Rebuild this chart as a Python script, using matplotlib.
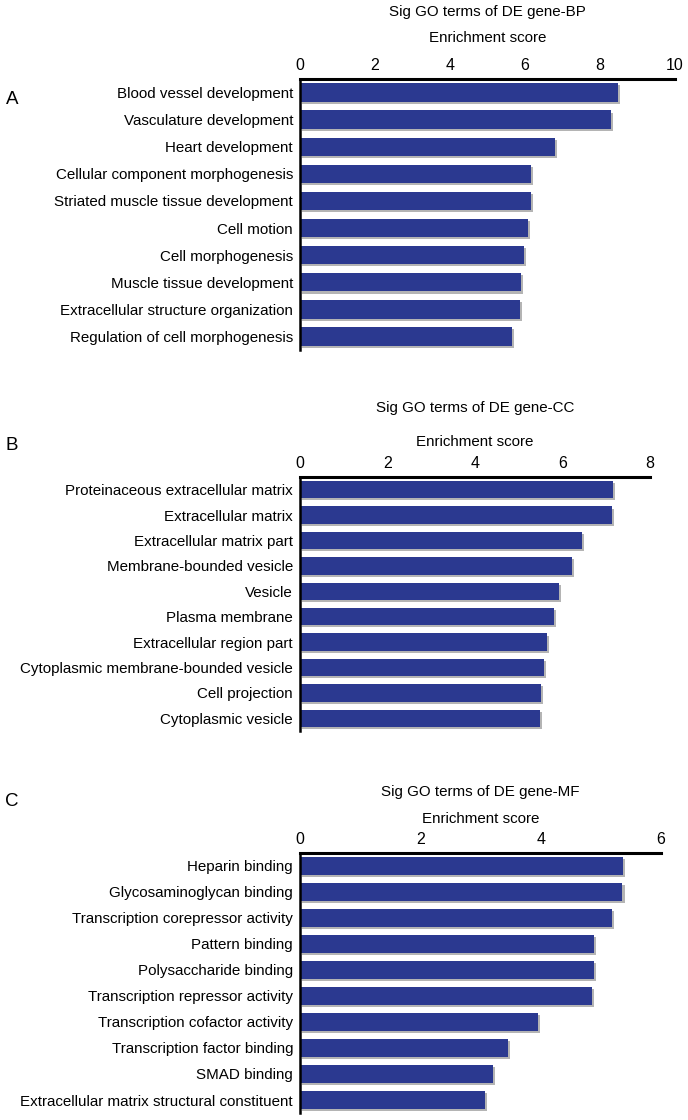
import matplotlib
matplotlib.use('Agg')
import matplotlib.pyplot as plt
import matplotlib.patheffects as pe

plt.rcParams['font.family'] = ['Liberation Sans', 'DejaVu Sans']

# Data: GO terms and enrichment scores
bp_terms = ['Blood vessel development', 'Vasculature development', 'Heart development',
            'Cellular component morphogenesis', 'Striated muscle tissue development',
            'Cell motion', 'Cell morphogenesis', 'Muscle tissue development',
            'Extracellular structure organization', 'Regulation of cell morphogenesis']
bp_scores = [8.48, 8.29, 6.79, 6.15, 6.16, 6.09, 5.98, 5.89, 5.86, 5.64]

cc_terms = ['Proteinaceous extracellular matrix', 'Extracellular matrix',
            'Extracellular matrix part', 'Membrane-bounded vesicle', 'Vesicle',
            'Plasma membrane', 'Extracellular region part',
            'Cytoplasmic membrane-bounded vesicle', 'Cell projection', 'Cytoplasmic vesicle']
cc_scores = [7.16, 7.12, 6.44, 6.21, 5.92, 5.80, 5.65, 5.57, 5.51, 5.48]

mf_terms = ['Heparin binding', 'Glycosaminoglycan binding',
            'Transcription corepressor activity', 'Pattern binding',
            'Polysaccharide binding', 'Transcription repressor activity',
            'Transcription cofactor activity', 'Transcription factor binding',
            'SMAD binding', 'Extracellular matrix structural constituent']
mf_scores = [5.37, 5.36, 5.19, 4.89, 4.89, 4.85, 3.96, 3.45, 3.20, 3.08]

W, H = 688, 1120
fig = plt.figure(figsize=(W / 100, H / 100), dpi=100)
bar_color = '#2b3990'
fs = 10.9


def panel(letter, letter_y, title, title_y, label_y, terms, scores, xmax, box):
    x0, x1, y0, y1 = box
    ax = fig.add_axes([x0 / W, 1 - y1 / H, (x1 - x0) / W, (y1 - y0) / H])
    ypos = list(range(len(terms)))
    bars = ax.barh(ypos, scores, height=0.68, color=bar_color, zorder=2)
    for b in bars:
        b.set_path_effects([pe.SimplePatchShadow(offset=(1.5, -1.5), shadow_rgbFace='#777777', alpha=0.55),
                            pe.Normal()])
    ax.set_xlim(0, xmax)
    ax.set_ylim(len(terms) - 0.5, -0.5)
    ax.set_yticks(ypos)
    ax.set_yticklabels(terms, fontsize=fs)
    ax.set_xticks(range(0, xmax + 1, 2))
    ax.xaxis.tick_top()
    ax.tick_params(axis='x', length=0, pad=4.5, labelsize=fs + 0.6)
    ax.tick_params(axis='y', length=0, pad=5)
    ax.spines['right'].set_visible(False)
    ax.spines['bottom'].set_visible(False)
    ax.spines['top'].set_linewidth(2.2)
    ax.spines['left'].set_linewidth(1.8)
    cx = (x0 + x1) / 2 / W
    fig.text(cx, 1 - title_y / H, title, ha='center', va='center', fontsize=fs)
    fig.text(cx, 1 - label_y / H, 'Enrichment score', ha='center', va='center', fontsize=fs)
    fig.text(12 / W, 1 - letter_y / H, letter, ha='center', va='center', fontsize=13.5)


panel('A', 100, 'Sig GO terms of DE gene-BP', 12, 38, bp_terms, bp_scores, 10, (300, 675, 79, 350))
panel('B', 445, 'Sig GO terms of DE gene-CC', 408, 442, cc_terms, cc_scores, 8, (300, 650, 477, 731))
panel('C', 802, 'Sig GO terms of DE gene-MF', 792, 819, mf_terms, mf_scores, 6, (300, 661, 853, 1113))

fig.savefig('out.png', dpi=100)
